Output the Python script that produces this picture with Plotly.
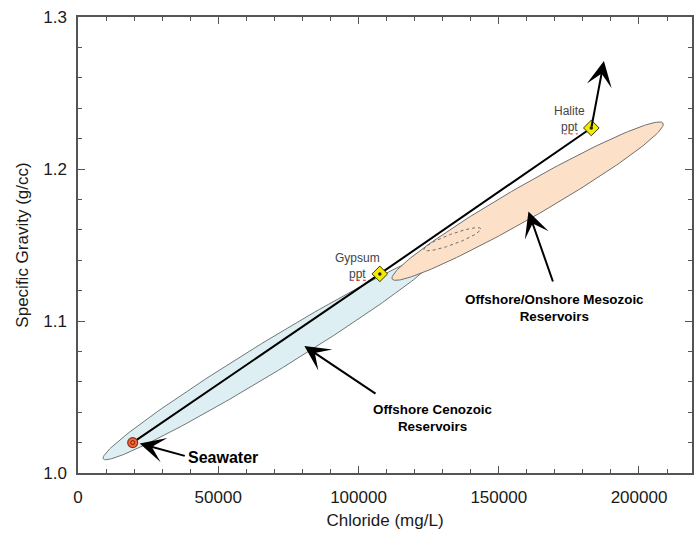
import numpy as np
import plotly.graph_objects as go

# ---------------- data ----------------
path_chloride = [19500, 107600, 183000]          # Seawater, Gypsum ppt, Halite ppt
path_sg = [1.020, 1.131, 1.227]
trend_end_chloride = 187500
trend_end_sg = 1.271

cenozoic_tips_cl = [9000, 128600]
cenozoic_tips_sg = [1.0093, 1.1442]
cenozoic_halfwidth = 0.08

mesozoic_tips_cl = [112000, 208600]
mesozoic_tips_sg = [1.1276, 1.2301]
mesozoic_halfwidth = 0.105

core_tips_cl = [123300, 143600]
core_tips_sg = [1.1469, 1.1607]
core_halfwidth = 0.17

xtick_vals = [0, 50000, 100000, 150000, 200000]
xtick_text = ["0", "50000", "100000", "150000", "200000"]
ytick_vals = [1.0, 1.1, 1.2, 1.3]
ytick_text = ["1.0", "1.1", "1.2", "1.3"]

# ---------------- layout constants ----------------
W, H = 694, 539
ML, MR, MT, MB = 78, 0, 17, 66
X_RANGE = [0, 218900]
Y_RANGE = [1.0, 1.3]
FONT = "Arial, Liberation Sans, sans-serif"

pw = W - ML - MR
ph = H - MT - MB
sx = pw / (X_RANGE[1] - X_RANGE[0])
sy = ph / (Y_RANGE[1] - Y_RANGE[0])


def ellipse(tcl, tsg, hw, n=240):
    x1, y1 = tcl[0] * sx, tsg[0] * sy
    x2, y2 = tcl[1] * sx, tsg[1] * sy
    cx, cy = (x1 + x2) / 2, (y1 + y2) / 2
    a = np.hypot(x2 - x1, y2 - y1) / 2
    b = a * hw
    th = np.arctan2(y2 - y1, x2 - x1)
    t = np.linspace(0, 2 * np.pi, n)
    ex = cx + a * np.cos(t) * np.cos(th) - b * np.sin(t) * np.sin(th)
    ey = cy + a * np.cos(t) * np.sin(th) + b * np.sin(t) * np.cos(th)
    return ex / sx, ey / sy


fig = go.Figure()

ex, ey = ellipse(cenozoic_tips_cl, cenozoic_tips_sg, cenozoic_halfwidth)
fig.add_trace(go.Scatter(x=ex, y=ey, mode="lines", fill="toself",
                         fillcolor="#ddeff2", line=dict(color="#6f7779", width=1),
                         hoverinfo="skip", showlegend=False))
ex, ey = ellipse(mesozoic_tips_cl, mesozoic_tips_sg, mesozoic_halfwidth)
fig.add_trace(go.Scatter(x=ex, y=ey, mode="lines", fill="toself",
                         fillcolor="#fce0c7", line=dict(color="#6f6f6f", width=1),
                         hoverinfo="skip", showlegend=False))
ex, ey = ellipse(core_tips_cl, core_tips_sg, core_halfwidth)
fig.add_trace(go.Scatter(x=ex, y=ey, mode="lines",
                         line=dict(color="#6a6a6a", width=1, dash="dot"),
                         hoverinfo="skip", showlegend=False))

# evaporation path
fig.add_trace(go.Scatter(x=path_chloride, y=path_sg, mode="lines",
                         line=dict(color="black", width=2),
                         hoverinfo="skip", showlegend=False))

# seawater point
fig.add_trace(go.Scatter(x=path_chloride[:1], y=path_sg[:1], mode="markers",
                         marker=dict(symbol="circle", size=10, color="#ef6a3a",
                                     line=dict(color="#9a2d10", width=1.2)),
                         hoverinfo="skip", showlegend=False))
fig.add_trace(go.Scatter(x=path_chloride[:1], y=path_sg[:1], mode="markers",
                         marker=dict(symbol="circle-open", size=4, color="#7a2008",
                                     line=dict(width=1)),
                         hoverinfo="skip", showlegend=False))
# gypsum / halite points
fig.add_trace(go.Scatter(x=path_chloride[1:], y=path_sg[1:], mode="markers",
                         marker=dict(symbol="diamond", size=12, color="#f3ea00",
                                     line=dict(color="#3a3a00", width=1)),
                         hoverinfo="skip", showlegend=False))
fig.add_trace(go.Scatter(x=path_chloride[1:], y=path_sg[1:], mode="markers",
                         marker=dict(symbol="circle", size=3.5, color="#222"),
                         hoverinfo="skip", showlegend=False))

ann = []
small = dict(family=FONT, size=12, color="#444")
bold13 = dict(family=FONT, size=13.4, color="black")

ann.append(dict(x=99600, y=1.1359, text="Gypsum<br>ppt", showarrow=False,
                font=small, xanchor="center", yanchor="middle"))
ann.append(dict(x=175400, y=1.2326, text="Halite<br>ppt", showarrow=False,
                font=small, xanchor="center", yanchor="middle"))
ann.append(dict(x=51600, y=1.0100, text="<b>Seawater</b>", showarrow=False,
                font=dict(family=FONT, size=16, color="black"),
                xanchor="center", yanchor="middle"))
ann.append(dict(x=169700, y=1.1086, text="<b>Offshore/Onshore Mesozoic<br>Reservoirs</b>",
                showarrow=False, font=bold13, xanchor="center", yanchor="middle"))
ann.append(dict(x=126700, y=1.0359, text="<b>Offshore Cenozoic<br>Reservoirs</b>",
                showarrow=False, font=bold13, xanchor="center", yanchor="middle"))

arrow_style = dict(showarrow=True, arrowhead=3, arrowsize=2.1, arrowwidth=2,
                   arrowcolor="black", standoff=0, startstandoff=0,
                   axref="x", ayref="y", text="")
# halite -> continued concentration
ann.append(dict(x=trend_end_chloride, y=trend_end_sg,
                ax=path_chloride[2], ay=path_sg[2], **arrow_style))
# label pointers
ann.append(dict(x=80700, y=1.0835, ax=106600, ay=1.0516, **arrow_style))
ann.append(dict(x=160600, y=1.1720, ax=169500, ay=1.1250, **arrow_style))
ann.append(dict(x=22000, y=1.0194, ax=38600, ay=1.0110, **arrow_style))

shapes = [
    dict(type="line", xref="x", yref="y", x0=97300, x1=102600, y0=1.1268, y1=1.1268,
         line=dict(color="#e02020", width=1, dash="dot")),
    dict(type="line", xref="x", yref="y", x0=173200, x1=178200, y0=1.2231, y1=1.2231,
         line=dict(color="#e02020", width=1, dash="dot")),
]

axis_common = dict(showgrid=False, zeroline=False, showline=True, linecolor="#555",
                   linewidth=1.5, mirror="allticks", ticks="inside", ticklen=7,
                   tickwidth=1, tickcolor="#555",
                   tickfont=dict(family=FONT, size=17, color="#1a1a1a"))

fig.update_layout(
    width=W, height=H,
    margin=dict(l=ML, r=MR, t=MT, b=MB, pad=0),
    paper_bgcolor="white", plot_bgcolor="white",
    showlegend=False,
    annotations=ann, shapes=shapes,
    xaxis=dict(range=X_RANGE, tickvals=xtick_vals, ticktext=xtick_text,
               minor=dict(dtick=10000, ticks="inside", ticklen=4, tickcolor="#555"),
               title=dict(text="Chloride (mg/L)", font=dict(family=FONT, size=17, color="#1a1a1a"),
                          standoff=8),
               ticklabelstandoff=8, **axis_common),
    yaxis=dict(range=Y_RANGE, tickvals=ytick_vals, ticktext=ytick_text,
               minor=dict(dtick=0.02, ticks="inside", ticklen=4, tickcolor="#555"),
               title=dict(text="Specific Gravity (g/cc)", font=dict(family=FONT, size=17, color="#1a1a1a"),
                          standoff=10),
               ticklabelstandoff=6, **axis_common),
)

fig.write_html("out.html")
